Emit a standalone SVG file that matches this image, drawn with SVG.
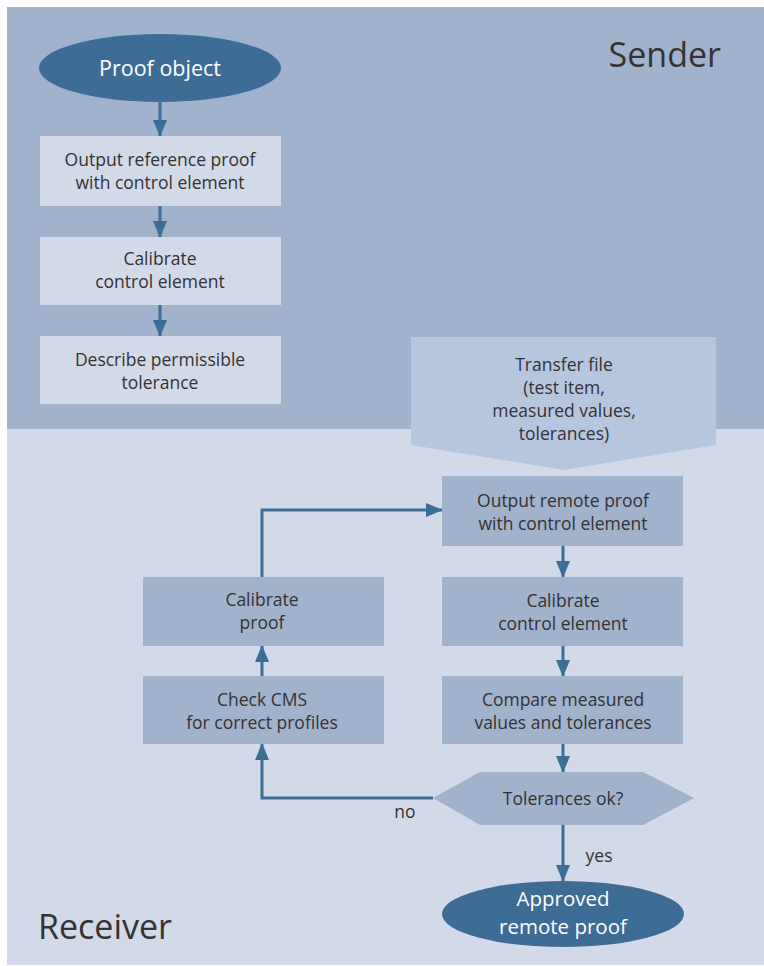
<svg xmlns="http://www.w3.org/2000/svg" width="764" height="966" viewBox="0 0 764 966">
<style>
.t{font-family:"Open Sans","Noto Sans",sans-serif;font-size:17.5px;fill:#333333;text-anchor:middle}
.w{font-family:"Open Sans","Noto Sans",sans-serif;font-size:21.5px;fill:#ffffff;text-anchor:middle}
.w2{font-family:"Open Sans","Noto Sans",sans-serif;font-size:20.5px;fill:#ffffff;text-anchor:middle}
.big{font-family:"Open Sans","Noto Sans",sans-serif;font-size:34px;fill:#333333}
.lb{fill:#d2d9e8}
.db{fill:#a1b2cc}
.el{fill:#3d6d94}
.c{stroke:#3b6e96;stroke-width:3;fill:none;marker-end:url(#ah)}
</style>
<defs>
<marker id="ah" markerUnits="userSpaceOnUse" markerWidth="17" markerHeight="14" refX="16" refY="7" orient="auto">
<path d="M0,0 L17,7 L0,14 z" fill="#3b6e96"/>
</marker>
</defs>
<rect x="0" y="0" width="764" height="966" fill="#ffffff"/>
<rect id="sender-bg" x="7" y="7" width="757" height="422" fill="#a1b2cc"/>
<rect id="receiver-bg" x="7" y="429" width="757" height="536" fill="#d2d9e8"/>
<text class="big" x="721" y="67" text-anchor="end">Sender</text>
<text class="big" x="38" y="939">Receiver</text>

<g id="connectors">
<line class="c" x1="160" y1="101" x2="160" y2="136"/>
<line class="c" x1="160" y1="206" x2="160" y2="237"/>
<line class="c" x1="160" y1="305" x2="160" y2="336"/>
<line class="c" x1="563" y1="546" x2="563" y2="577"/>
<line class="c" x1="563" y1="646" x2="563" y2="676"/>
<line class="c" x1="563" y1="744" x2="563" y2="772"/>
<line class="c" x1="563" y1="825" x2="563" y2="881"/>
<polyline class="c" points="433,798 262,798 262,744"/>
<line class="c" x1="262" y1="676" x2="262" y2="646"/>
<polyline class="c" points="262,577 262,510 442,510"/>
<text class="t" x="405" y="818">no</text>
<text class="t" x="599" y="862">yes</text>
</g>

<g id="proof-object">
<ellipse class="el" cx="160" cy="68" rx="121" ry="34"/>
<text class="w" x="160" y="76">Proof object</text>
</g>
<g id="output-reference">
<rect class="lb" x="40" y="136" width="241" height="70"/>
<text class="t" x="160" y="166">Output reference proof</text>
<text class="t" x="160" y="189">with control element</text>
</g>
<g id="calibrate-control-sender">
<rect class="lb" x="40" y="237" width="241" height="68"/>
<text class="t" x="160" y="265">Calibrate</text>
<text class="t" x="160" y="288">control element</text>
</g>
<g id="describe-tolerance">
<rect class="lb" x="40" y="336" width="241" height="68"/>
<text class="t" x="160" y="366">Describe permissible</text>
<text class="t" x="160" y="389">tolerance</text>
</g>
<g id="transfer-file">
<polygon points="411,337 716,337 716,445 564,470 411,445" fill="#b6c6df"/>
<text class="t" x="564" y="371">Transfer file</text>
<text class="t" x="564" y="394">(test item,</text>
<text class="t" x="564" y="417">measured values,</text>
<text class="t" x="564" y="440">tolerances)</text>
</g>
<g id="output-remote">
<rect class="db" x="442" y="476" width="241" height="70"/>
<text class="t" x="563" y="507">Output remote proof</text>
<text class="t" x="563" y="530">with control element</text>
</g>
<g id="calibrate-control-receiver">
<rect class="db" x="442" y="577" width="241" height="69"/>
<text class="t" x="563" y="607">Calibrate</text>
<text class="t" x="563" y="630">control element</text>
</g>
<g id="compare">
<rect class="db" x="442" y="676" width="241" height="68"/>
<text class="t" x="563" y="706">Compare measured</text>
<text class="t" x="563" y="729">values and tolerances</text>
</g>
<g id="calibrate-proof">
<rect class="db" x="143" y="577" width="241" height="69"/>
<text class="t" x="262" y="606">Calibrate</text>
<text class="t" x="262" y="629">proof</text>
</g>
<g id="check-cms">
<rect class="db" x="143" y="676" width="241" height="68"/>
<text class="t" x="262" y="706">Check CMS</text>
<text class="t" x="262" y="729">for correct profiles</text>
</g>
<g id="tolerances-ok">
<polygon class="db" points="433,798 480,772 643,772 694,798 643,825 480,825"/>
<text class="t" x="563" y="805">Tolerances ok?</text>
</g>
<g id="approved">
<ellipse class="el" cx="563" cy="914" rx="121" ry="33"/>
<text class="w2" x="563" y="906">Approved</text>
<text class="w2" x="563" y="934">remote proof</text>
</g>
</svg>
